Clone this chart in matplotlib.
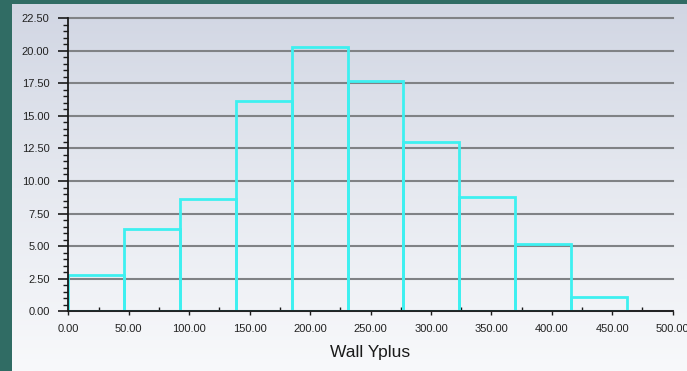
import numpy as np
import matplotlib.pyplot as plt
from matplotlib.ticker import MultipleLocator, FormatStrFormatter
from matplotlib.colors import LinearSegmentedColormap

# histogram of wall y+ (percent of faces per bin)
bin_edges = [0.0, 46.2, 92.4, 138.6, 184.8, 231.0, 277.2, 323.4, 369.6, 415.8, 462.0]
percent = [2.80, 6.30, 8.60, 16.10, 20.25, 17.65, 13.00, 8.75, 5.15, 1.12]
x_label = "Wall Yplus"

plt.rcParams['font.family'] = ['Liberation Sans', 'DejaVu Sans']

fig = plt.figure(figsize=(6.87, 3.71), dpi=100)
fig.patch.set_facecolor("#306c64")

# light panel with a vertical gradient behind the plot
bg = fig.add_axes([12 / 687, 0, 1 - 12 / 687, 367 / 371], zorder=0)
grad = LinearSegmentedColormap.from_list("panel", ["#f8f9fb", "#e6e9f0", "#d1d6e3"])
bg.imshow(np.linspace(0, 1, 256).reshape(-1, 1), cmap=grad, aspect="auto",
          origin="lower", extent=[0, 1, 0, 1])
bg.axis("off")

ax = fig.add_axes([68.3 / 687, 59.6 / 371, 604.4 / 687, 293.4 / 371], zorder=1)
ax.set_facecolor("none")

edges = np.array(bin_edges)
ax.bar(edges[:-1], percent, width=np.diff(edges), align="edge", fill=False,
       edgecolor="#3ef0f0", linewidth=2.0, zorder=3)

ax.set_xlim(0, 500)
ax.set_ylim(0, 22.5)

ax.yaxis.set_major_locator(MultipleLocator(2.5))
ax.yaxis.set_minor_locator(MultipleLocator(0.5))
ax.xaxis.set_major_locator(MultipleLocator(50))
ax.xaxis.set_minor_locator(MultipleLocator(25))
ax.yaxis.set_major_formatter(FormatStrFormatter("%.2f"))
ax.xaxis.set_major_formatter(FormatStrFormatter("%.2f"))

ax.yaxis.grid(True, color="#808285", linewidth=1.5, zorder=1)
ax.set_axisbelow(True)
# keep the top grid line at full width
for gl in ax.get_ygridlines():
    gl.set_clip_on(False)

for side in ("top", "right"):
    ax.spines[side].set_visible(False)
for side in ("left", "bottom"):
    ax.spines[side].set_color("#1a1a1a")
    ax.spines[side].set_linewidth(1.3)
    ax.spines[side].set_zorder(4)

ax.tick_params(axis="y", which="major", direction="out", length=7, width=1.2,
               color="#1a1a1a", labelsize=8, labelcolor="#222222", pad=6.5)
ax.tick_params(axis="y", which="minor", direction="out", length=3.8, width=1.0,
               color="#1a1a1a")
ax.tick_params(axis="x", which="major", direction="out", length=3, width=1.0,
               color="#1a1a1a", labelsize=8, labelcolor="#222222", pad=6)
ax.tick_params(axis="x", which="minor", direction="in", length=3, width=1.0,
               color="#1a1a1a")

fig.text(370 / 687, 14.3 / 371, x_label, ha="center", va="baseline",
         fontsize=12.5, color="#1a1a1a")

fig.savefig("out.png", dpi=100, facecolor=fig.get_facecolor())
